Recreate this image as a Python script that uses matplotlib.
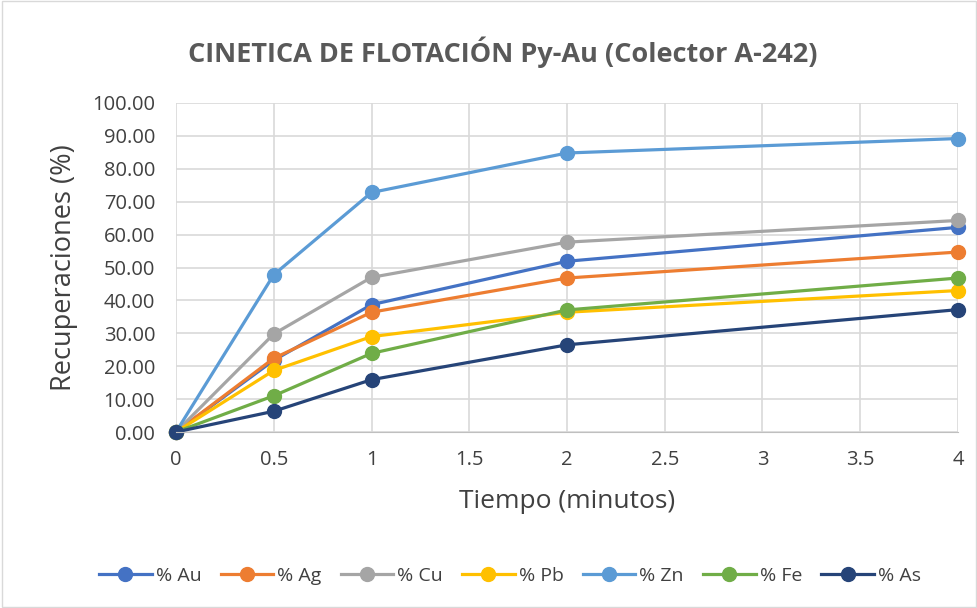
import matplotlib.pyplot as plt
from matplotlib.patches import Rectangle

plt.rcParams['font.family'] = ['Open Sans', 'DejaVu Sans']

tiempo = [0, 0.5, 1, 2, 4]
au = [0, 21.8, 38.7, 51.9, 62.2]
ag = [0, 22.4, 36.4, 46.8, 54.7]
cu = [0, 29.8, 47.0, 57.7, 64.3]
pb = [0, 18.7, 29.0, 36.4, 43.0]
zn = [0, 47.8, 72.8, 84.8, 89.2]
fe = [0, 11.0, 23.9, 37.1, 46.8]
as_ = [0, 6.3, 15.9, 26.5, 37.2]

series = [
    ('% Au', au, '#4472C4'),
    ('% Ag', ag, '#ED7D31'),
    ('% Cu', cu, '#A5A5A5'),
    ('% Pb', pb, '#FFC000'),
    ('% Zn', zn, '#5B9BD5'),
    ('% Fe', fe, '#70AD47'),
    ('% As', as_, '#264478'),
]

fig = plt.figure(figsize=(9.78, 6.08), dpi=100)
ax = fig.add_axes([176 / 978, 1 - 432 / 608, (958 - 176) / 978, (432 - 103) / 608])

for name, vals, col in series:
    ax.plot(tiempo, vals, color=col, lw=2.3, marker='o', ms=10, label=name, clip_on=False)

ax.set_xlim(0, 4)
ax.set_ylim(0, 100)
ax.set_xticks([0, 0.5, 1, 1.5, 2, 2.5, 3, 3.5, 4])
ax.set_xticklabels(['0', '0.5', '1', '1.5', '2', '2.5', '3', '3.5', '4'])
ax.set_yticks(range(0, 101, 10))
ax.set_yticklabels([f'{v:.2f}' for v in range(0, 101, 10)])
ax.grid(True, color='#D9D9D9', lw=1.2)
ax.set_axisbelow(True)
for s in ax.spines.values():
    s.set_visible(False)
ax.spines['bottom'].set_visible(True)
ax.spines['bottom'].set_color('#BFBFBF')
ax.tick_params(length=0, labelsize=14.5, colors='#404040')
ax.tick_params(axis='y', pad=15)
ax.tick_params(axis='x', pad=13)

ax.set_xlabel('Tiempo (minutos)', fontsize=19, color='#404040', labelpad=14)
ax.set_ylabel('Recuperaciones (%)', fontsize=19.5, color='#404040', labelpad=10)

fig.text(503 / 978, 1 - 52 / 608, 'CINETICA DE FLOTACIÓN Py-Au (Colector A-242)',
         ha='center', va='center', fontsize=19.5, fontweight='bold', color='#595959')

fig.legend(loc='center', bbox_to_anchor=(510 / 978, 1 - 576 / 608), ncol=7, frameon=False,
           fontsize=14, handlelength=2.7, columnspacing=1.0, handletextpad=0.2,
           labelcolor='#404040', markerscale=1.0)

fig.patches.append(Rectangle((0.002, 0.002), 0.996, 0.996, transform=fig.transFigure,
                             fill=False, edgecolor='#D9D9D9', lw=1))

fig.savefig('out.png', dpi=100)
